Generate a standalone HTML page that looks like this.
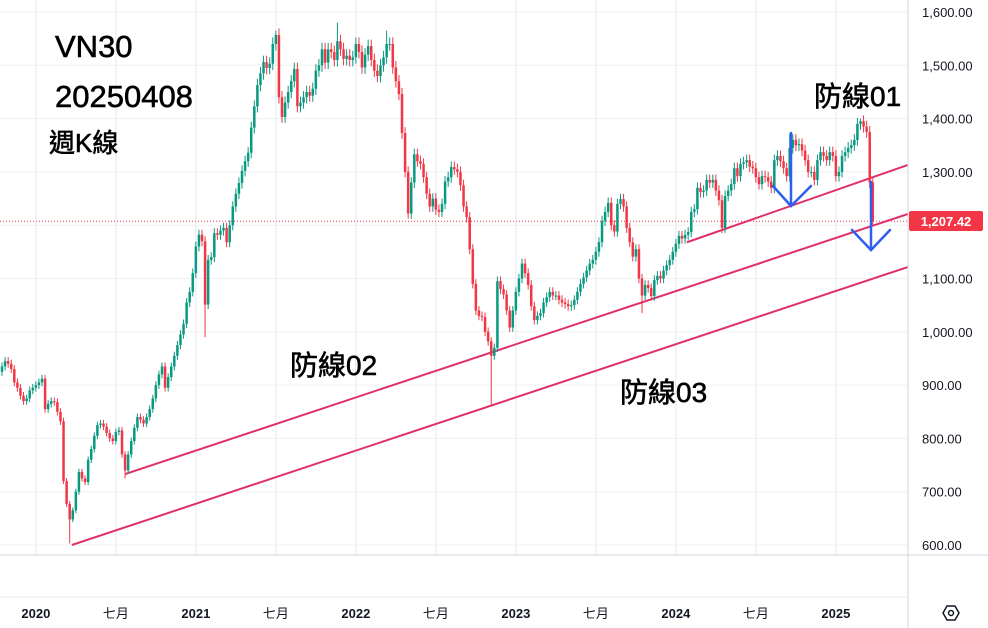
<!DOCTYPE html>
<html><head><meta charset="utf-8">
<style>
html,body{margin:0;padding:0;background:#fff;}
svg{display:block;font-family:"Liberation Sans","Noto Sans CJK TC",sans-serif;}
</style></head>
<body>
<svg id="chart" width="988" height="628" viewBox="0 0 988 628" xmlns="http://www.w3.org/2000/svg">
<rect x="0" y="0" width="988" height="628" fill="#ffffff"/>
<g id="grid"></g>
<g id="lines"></g>
<g id="candles"></g>
<g id="annot"></g>
<g id="axes"></g>
</svg>
<script>
// ---- data ----
const closes = [935,945,940,930,905,895,880,870,875,890,895,
900,905,912,855,865,870,868,850,832,720,677,648,665,700,737,725,718,760,780,805,825,828,822,810,800,795,812,815,770,740,770,795,820,840,835,828,840,855,875,900,920,935,895,915,935,955,975,995,1015,1055,1075,1110,
1160,1182,1170,1051,1135,1140,1185,1182,1190,1195,1168,1200,1235,1259,1279,1302,1320,1336,1383,1423,1463,1485,1506,1495,1503,1540,1557,1440,1403,1430,1450,1470,1493,1423,1430,1440,1450,1443,1456,1490,1500,1530,1505,1530,1525,1510,1545,1530,1512,1518,1510,1515,
1540,1525,1496,1520,1536,1510,1490,1480,1500,1515,1540,1540,1496,1470,1446,1373,1300,1222,1280,1333,1320,1315,1290,1259,1235,1250,1229,1225,1240,1282,1290,1309,1305,1300,1275,1235,1215,1155,1090,1040,1030,1028,1000,982,955,970,1095,1080,1070,1040,1008,1040,
1075,1100,1128,1110,1088,1048,1022,1030,1035,1055,1065,1075,1068,1068,1060,1055,1052,1048,1050,1060,1075,1090,1102,1115,1128,1135,1150,1168,1208,1225,1242,1200,1188,1240,1249,1235,1195,1168,1141,1155,1100,1068,1088,1082,1067,1097,1105,1100,1115,1125,1135,1150,
1165,1180,1175,1182,1187,1225,1230,1270,1262,1265,1285,1280,1285,1265,1247,1195,1255,1265,1277,1307,1292,1315,1318,1322,1310,1307,1290,1277,1292,1290,1282,1270,1322,1330,1320,1307,1292,1345,1360,1350,1352,1340,1322,1300,1300,1285,1322,1337,1330,1322,1337,1330,
1292,1300,1330,1337,1345,1350,1360,1390,1395,1385,1375,1280,1207.42];
const firstOpen = 925;
const extremeLows = [[22,603],[40,725],[66,990],[159,862],[208,1035],[234,1185]];
const extremeHighs = [[89,1565],[109,1580],[125,1565],[256,1372],[279,1400]];
const yTicks = [1600,1500,1400,1300,1200,1100,1000,900,800,700,600];
const yTickLabels = ["1,600.00","1,500.00","1,400.00","1,300.00","","1,100.00","1,000.00","900.00","800.00","700.00","600.00"];
const timeTicks = [11,37,63,89,115,141,167,193,219,245,271];
const timeLabels = ["2020","七月","2021","七月","2022","七月","2023","七月","2024","七月","2025"];
const lastPrice = 1207.42;
// trend lines as [index, price] pairs
const line01 = [[222.6,1168],[294.4,1313]];
const line02 = [[40,733],[294.4,1221]];
const line03 = [[22.7,600],[294.4,1121.5]];

// ---- axes ----
const NS="http://www.w3.org/2000/svg";
function X(i){return 2+i*3.077;}
function Y(v){return 545-(v-600)*0.533;}
function mk(tag,attrs,parent){const e=document.createElementNS(NS,tag);for(const k in attrs)e.setAttribute(k,attrs[k]);parent.appendChild(e);return e;}
const grid=document.getElementById('grid'),candles=document.getElementById('candles'),lines=document.getElementById('lines'),axes=document.getElementById('axes'),annot=document.getElementById('annot');

yTicks.forEach((v,k)=>{
  const l=mk('line',{x1:0,x2:908,y1:Y(v),y2:Y(v),stroke:'#eef0f4','stroke-width':1},grid);
  
  
  if(yTickLabels[k]){
    const t=mk('text',{x:922,y:Y(v)+5,'font-size':13,fill:'#131722'},axes);
    t.textContent=yTickLabels[k];
    
    
  }
});
timeTicks.forEach((i,k)=>{
  const l=mk('line',{x1:X(i),x2:X(i),y1:0,y2:555,stroke:'#e6e8ee','stroke-width':1},grid);
  
  
  const isYear=/^\d+$/.test(timeLabels[k]);
  const t=mk('text',{x:X(i),y:618,'font-size':13,'text-anchor':'middle',fill:'#131722','font-weight':isYear?'bold':'normal'},axes);
  t.textContent=timeLabels[k];
  
  
});
let s;
s=mk('line',{x1:908,x2:908,y1:0,y2:628,stroke:'#d1d4dc','stroke-width':1},axes);


s=mk('line',{x1:0,x2:988,y1:555,y2:555,stroke:'#d1d4dc','stroke-width':1},axes);


s=mk('line',{x1:0,x2:908,y1:597,y2:597,stroke:'#eceef2','stroke-width':1},axes);



// last price dotted line
s=mk('line',{x1:0,x2:908,y1:Y(lastPrice),y2:Y(lastPrice),stroke:'#f23645','stroke-width':1,'stroke-dasharray':'1 2'},grid);



// candles
const lowMap={},highMap={};
extremeLows.forEach(p=>lowMap[p[0]]=p[1]);
extremeHighs.forEach(p=>highMap[p[0]]=p[1]);
closes.forEach((c,i)=>{
  const o=i===0?firstOpen:closes[i-1];
  const up=c>=o;
  const col=up?'#089981':'#f23645';
  const hi=highMap[i]!==undefined?highMap[i]:Math.max(o,c)*1.008;
  const lo=lowMap[i]!==undefined?lowMap[i]:Math.min(o,c)*0.992;
  const g=mk('g',{},candles);
  
  
  mk('line',{x1:X(i),x2:X(i),y1:Y(hi),y2:Y(lo),stroke:col,'stroke-width':1},g);
  const top=Y(Math.max(o,c)),bot=Y(Math.min(o,c));
  mk('rect',{x:X(i)-1.25,y:top,width:2.5,height:Math.max(1,bot-top),fill:col},g);
});

// trend lines
[[line01,'defense-line-01'],[line02,'defense-line-02'],[line03,'defense-line-03']].forEach(([ln,name])=>{
  const l=mk('line',{x1:X(ln[0][0]),y1:Y(ln[0][1]),x2:X(ln[1][0]),y2:Y(ln[1][1]),stroke:'#e0306a','stroke-width':2},lines);
  
  
});
</script>
<script>
const an=document.getElementById('annot');
an.innerHTML=`
<g stroke="#2f5ff0" stroke-width="2.5" fill="none" stroke-linecap="round">
<line x1="791" y1="133" x2="791" y2="206"/><polyline points="773,186 791,206 811,186"/></g>
<g stroke="#2f5ff0" stroke-width="2.5" fill="none" stroke-linecap="round">
<line x1="871" y1="182" x2="871" y2="250"/><polyline points="852,230 871,250 890,230"/></g>
<g fill="#000" stroke="#000" stroke-width="0.6">
<text x="55" y="57" font-size="31">VN30</text>
<text x="55" y="107" font-size="31">20250408</text>
<text x="49" y="152" font-size="26">週K線</text>
<text x="290" y="375" font-size="28">防線02</text>
<text x="620" y="402" font-size="28">防線03</text>
<text x="814" y="106" font-size="28">防線01</text>
</g>
<g>
<rect x="909" y="211" width="74" height="20" rx="2" fill="#f23645"/>
<text x="946" y="226" font-size="13" font-weight="bold" fill="#fff" text-anchor="middle">1,207.42</text></g>
<g fill="none" stroke="#131722" stroke-width="1.5">
<polygon points="943,613 947,606 955,606 959,613 955,620 947,620"/><circle cx="951" cy="613" r="2.5"/></g>`;
</script>
</body></html>
